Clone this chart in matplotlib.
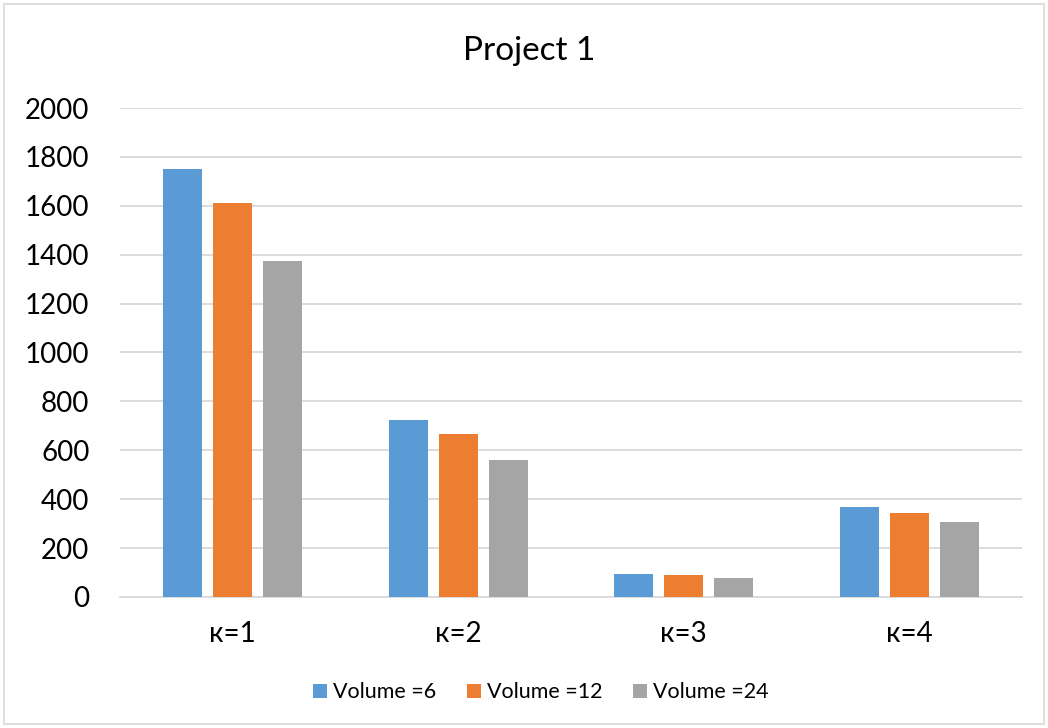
import matplotlib.pyplot as plt
import matplotlib.patches as patches
import numpy as np

plt.rcParams['font.family'] = ['Lato', 'DejaVu Sans']

categories = ["к=1", "к=2", "к=3", "к=4"]
series_names = ["Volume =6", "Volume =12", "Volume =24"]
volume_6 = [1750, 722, 95, 370]
volume_12 = [1611, 667, 88, 343]
volume_24 = [1375, 559, 78, 306]
colors = ["#5B9BD5", "#ED7D31", "#A5A5A5"]

fig = plt.figure(figsize=(10.48, 7.28), dpi=100)
ax = fig.add_axes([0.1145, 0.18, 0.8605, 0.6716])

x = np.arange(len(categories))
width = 0.173
pitch = 0.222
for i, (vals, name) in enumerate(zip([volume_6, volume_12, volume_24], series_names)):
    ax.bar(x + (i - 1) * pitch, vals, width, color=colors[i], label=name, zorder=3)

ax.set_xlim(-0.5, 3.5)
ax.set_ylim(0, 2000)
ax.set_yticks(range(0, 2001, 200))
ax.yaxis.grid(True, color="#D9D9D9", linewidth=1.3, zorder=0)
ax.set_xticks(x)
ax.set_xticklabels(categories)
ax.tick_params(axis='both', length=0, labelsize=20, colors="#000000")
ax.tick_params(axis='x', pad=17)
ax.tick_params(axis='y', pad=22)
for s in ["top", "right", "left"]:
    ax.spines[s].set_visible(False)
ax.spines["bottom"].set_color("#D9D9D9")
ax.spines["bottom"].set_linewidth(1.3)

fig.text(0.505, 0.93, "Project 1", ha="center", va="center", fontsize=24)

fig.legend(loc="center", bbox_to_anchor=(0.516, 0.049), ncol=3, frameon=False,
           fontsize=15.5, handlelength=0.65, handleheight=0.65, handletextpad=0.3,
           columnspacing=1.4)

# outer chart border
fig.patches.append(patches.Rectangle((0.004, 0.005), 0.992, 0.99, transform=fig.transFigure,
                                     fill=False, edgecolor="#D9D9D9", linewidth=1.2))

fig.savefig("out.png", dpi=100)
